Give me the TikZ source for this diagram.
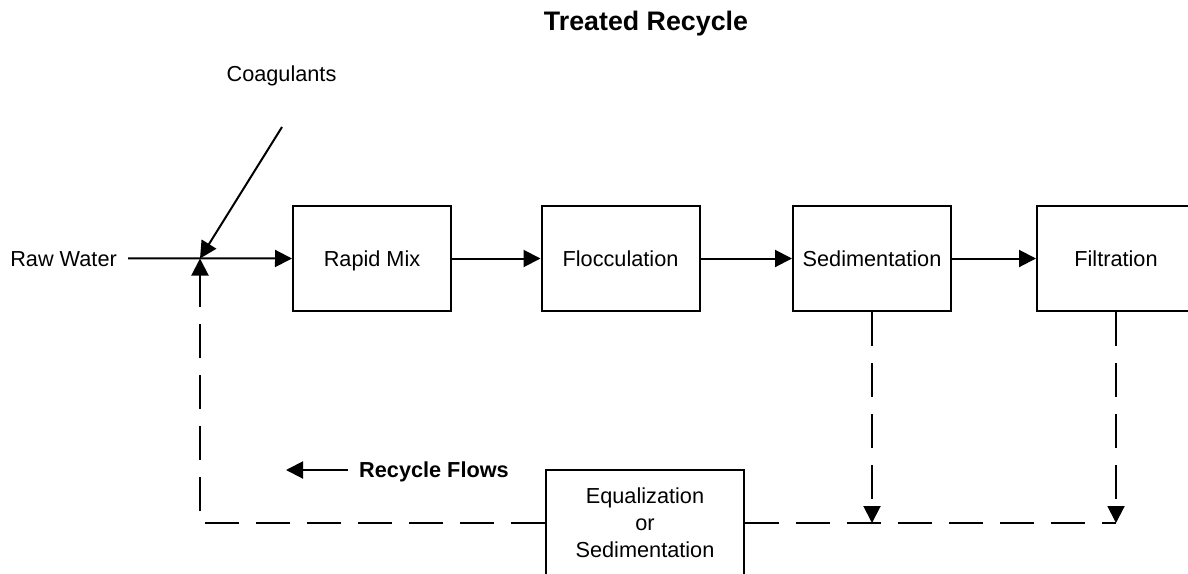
\documentclass[tikz,border=0pt]{standalone}
\usepackage{fontspec}
\setmainfont{Liberation Sans}
\usetikzlibrary{arrows.meta}
\begin{document}
\begin{tikzpicture}[x=1pt,y=-1pt,
  every node/.style={font=\fontsize{21.7}{27}\selectfont},
  boxbase/.style={draw,line width=2pt,minimum width=158pt,minimum height=105pt,inner sep=0pt},
  unit/.style={boxbase,text height=15.5pt,text depth=0pt},
  lbl/.style={inner sep=0pt,text height=15.5pt,text depth=0pt},
  flow/.style={line width=2pt,-{Triangle[length=17pt,width=17pt]}},
  recycle/.style={line width=2pt,dash pattern=on 34pt off 17pt},
  rflow/.style={flow,recycle}]
  \clip (0,0) rectangle (1188,573);

  % headings and labels
  \node[inner sep=0pt,anchor=base,font=\fontsize{26.8}{32}\selectfont\bfseries] (title) at (646,30) {Treated Recycle};
  \node[inner sep=0pt,anchor=base] (coag) at (281.5,81.5) {Coagulants};
  \node[lbl,inner xsep=11pt,anchor=base east] (raw) at (128,266) {Raw Water};

  % treatment train
  \node[unit] (rapid) at (372,258.5) {Rapid Mix};
  \node[unit] (floc) at (620.5,258.5) {Flocculation};
  \node[unit] (sed) at (872,258.5) {Sedimentation};
  \node[unit] (filt) at (1116,258.5) {Filtration};
  \node[boxbase,minimum width=198pt,minimum height=106pt,align=center] (eq) at (645,523) {Equalization\\or\\Sedimentation};

  % junction points
  \coordinate (j) at (200,258.5);
  \coordinate (coagend) at (282,127);
  \coordinate (sedj) at (sed.south |- eq.east);
  \coordinate (filj) at (filt.south |- eq.east);

  % main flow
  \draw[flow] (raw.east) -- (rapid.west);
  \draw[flow] (coagend) -- (j);
  \draw[flow] (rapid) -- (floc);
  \draw[flow] (floc) -- (sed);
  \draw[flow] (sed) -- (filt);

  % recycle streams
  \draw[rflow] (sed.south) -- (sedj);
  \draw[rflow] (filt.south) -- (filj);
  \draw[recycle] (eq.east) -- (filj);
  \draw[rflow] (eq.west) -- (j |- eq.west) -- (j);

  % legend
  \node[lbl,inner xsep=11pt,anchor=west,font=\fontsize{21.7}{27}\selectfont\bfseries] (rf) at (348,470) {Recycle Flows};
  \coordinate (rftip) at (286,470);
  \draw[flow] (rf.west) -- (rftip);
\end{tikzpicture}
\end{document}
